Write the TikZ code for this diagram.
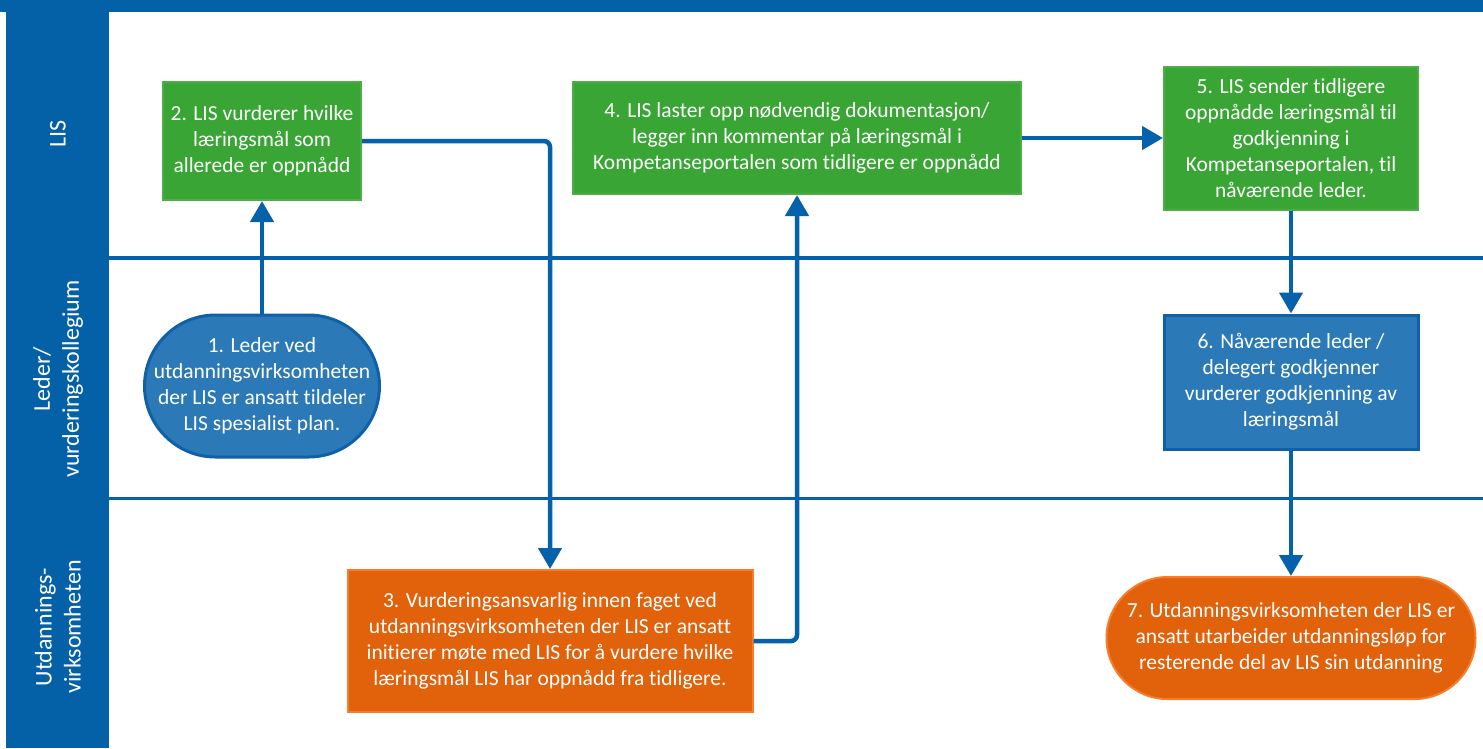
\documentclass[tikz,border=0pt]{standalone}
\usepackage{fontspec}
\setmainfont{Carlito}[RawFeature={-liga;-clig;-calt;-dlig}]
\usetikzlibrary{arrows.meta}
\definecolor{laneblue}{RGB}{4,97,168}
\definecolor{arrowblue}{RGB}{5,98,170}
\definecolor{gfill}{RGB}{57,165,53}
\definecolor{gline}{RGB}{80,172,72}
\definecolor{bfill}{RGB}{43,121,183}
\definecolor{bline}{RGB}{16,96,168}
\definecolor{ofill}{RGB}{226,97,11}
\definecolor{oline}{RGB}{247,125,45}
\tikzset{
  txt/.style={text=white, align=center, inner sep=0pt, font=\fontsize{21.5}{26}\selectfont},
  greenbox/.style={txt, rectangle, fill=gfill, draw=gline, line width=2pt},
  bluebox/.style={txt, rectangle, fill=bfill, draw=bline, line width=3pt},
  orangebox/.style={txt, rectangle, fill=ofill, draw=oline, line width=2pt},
  lanelabel/.style={text=white, align=center, rotate=90, font=\fontsize{24}{29}\selectfont},
  laneline/.style={draw=laneblue, line width=3.5pt},
  arr/.style={draw=arrowblue, line width=4.5pt, -{Triangle[width=23pt,length=21pt]}, rounded corners=6pt}
}
\begin{document}
\begin{tikzpicture}[x=1pt,y=-1pt]
\useasboundingbox (0,0) rectangle (1483,748);
\fill[white] (0,0) rectangle (1483,748);
% header and lane column
\fill[laneblue] (0,0) rectangle (1483,11.5);
\fill[laneblue] (6,0) rectangle (109,748);
\draw[laneline] (109,258) -- (1483,258);
\draw[laneline] (109,498.5) -- (1483,498.5);
% lane labels
\node[lanelabel] (lLIS) at (58,134) {LIS};
\node[lanelabel] (lLeder) at (58,379) {Leder/\\vurderingskollegium};
\node[lanelabel] (lUtd) at (58,627) {Utdannings-\\virksomheten};
% process nodes
\node[greenbox, minimum width=198pt, minimum height=118pt] (b2) at (262,141)
  {2. LIS vurderer hvilke\\læringsmål som\\allerede er oppnådd};
\node[bluebox, minimum width=235pt, minimum height=142pt, rounded corners=71pt] (b1) at (262,386)
  {1. Leder ved\\utdanningsvirksomheten\\der LIS er ansatt tildeler\\LIS spesialist plan.};
\node[orangebox, minimum width=405pt, minimum height=142pt] (b3) at (550,641)
  {3. Vurderingsansvarlig innen faget ved\\utdanningsvirksomheten der LIS er ansatt\\initierer møte med LIS for å vurdere hvilke\\læringsmål LIS har oppnådd fra tidligere.};
\node[greenbox, minimum width=448pt, minimum height=112pt] (b4) at (797,138)
  {4. LIS laster opp nødvendig dokumentasjon/\\legger inn kommentar på læringsmål i\\Kompetanseportalen som tidligere er oppnådd};
\node[greenbox, minimum width=254pt, minimum height=143pt] (b5) at (1291,138)
  {5. LIS sender tidligere\\oppnådde læringsmål til\\godkjenning i\\Kompetanseportalen, til\\nåværende leder.};
\node[bluebox, minimum width=254pt, minimum height=134pt] (b6) at (1291,382)
  {6. Nåværende leder /\\delegert godkjenner\\vurderer godkjenning av\\læringsmål};
\node[orangebox, minimum width=369pt, minimum height=122pt, rounded corners=61pt] (b7) at (1291,638)
  {7. Utdanningsvirksomheten der LIS er\\ansatt utarbeider utdanningsløp for\\resterende del av LIS sin utdanning};
% connectors
\draw[arr] (b1.north) -- (b2.south);
\draw[arr] (b2.east) -| (b3.north);
\draw[arr] (b3.east) -| (b4.south);
\draw[arr] (b4.east) -- (b5.west);
\draw[arr] (b5.south) -- (b6.north);
\draw[arr] (b6.south) -- (b7.north);
\end{tikzpicture}
\end{document}
